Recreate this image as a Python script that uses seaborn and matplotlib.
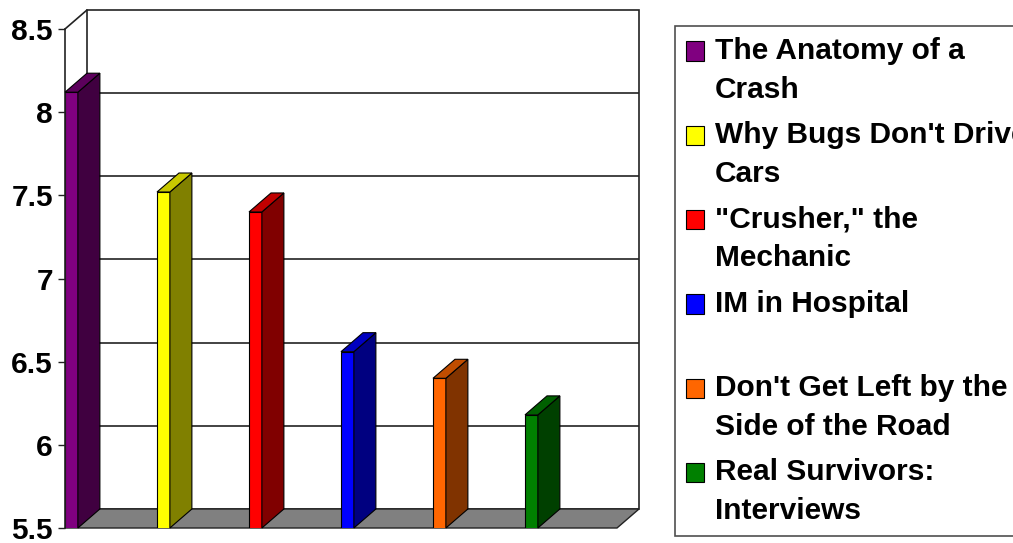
import matplotlib
matplotlib.use("Agg")
import matplotlib.pyplot as plt
import matplotlib.patches as mpatches
from matplotlib.legend_handler import HandlerPatch
from matplotlib.ticker import FormatStrFormatter
import seaborn as sns

# Dados do gráfico
titles = ["The Anatomy of a\nCrash", "Why Bugs Don't Drive\nCars", "\"Crusher,\" the\nMechanic",
          "IM in Hospital\n ", "Don't Get Left by the\nSide of the Road", "Real Survivors:\nInterviews"]
scores = [8.12, 7.52, 7.40, 6.56, 6.40, 6.18]
y_ticks = [5.5, 6, 6.5, 7, 7.5, 8, 8.5]

front_colors = ["#800080", "#FFFF00", "#FF0000", "#0000FF", "#FF6600", "#008000"]
side_colors = ["#400040", "#808000", "#800000", "#000080", "#803300", "#004000"]
top_colors = ["#5C005C", "#C8C800", "#C00000", "#0000C0", "#C04D00", "#006000"]

sns.set_style("white")
plt.rcParams['font.family'] = ['Liberation Sans', 'DejaVu Sans']
plt.rcParams['font.weight'] = 'bold'
plt.rcParams['text.color'] = 'black'
plt.rcParams['ytick.color'] = 'black'
plt.rcParams['ytick.labelcolor'] = 'black'

fig = plt.figure(figsize=(10.13, 5.43), dpi=100)
ax = fig.add_axes([65 / 1013, 15 / 543, 552 / 1013, 499 / 543])

bar_w = 0.14
sns.barplot(x=titles, y=scores, hue=titles, palette=front_colors, width=bar_w, saturation=1,
            legend=False, edgecolor="black", linewidth=0.8, ax=ax)

ymin, ymax = 5.5, 8.5
xmin, xmax = -bar_w / 2, -bar_w / 2 + 6
ax.set_xlim(xmin, xmax)
ax.set_ylim(ymin, ymax)

# profundidade do efeito 3D (em unidades de dados)
dx = 22 / 92
dy = 19 / 166.3

# parede de fundo e linhas de grade
ax.add_patch(mpatches.Rectangle((xmin + dx, ymin + dy), xmax - xmin, ymax - ymin, facecolor="white",
                                edgecolor="#222222", lw=1.2, clip_on=False, zorder=0.1))
ax.hlines([t + dy for t in y_ticks[1:-1]], xmin + dx, xmax + dx, color="#222222", lw=1.2,
          clip_on=False, zorder=0.2)
ax.plot([xmin, xmin + dx], [ymax, ymax + dy], color="#222222", lw=1.2, clip_on=False, zorder=0.2)

# chão cinza
ax.add_patch(mpatches.Polygon([(xmin, ymin), (xmax, ymin), (xmax + dx, ymin + dy), (xmin + dx, ymin + dy)],
                              closed=True, facecolor="#808080", edgecolor="#222222", lw=1,
                              clip_on=False, zorder=0.5))

# faces laterais e superiores das barras
for p, sc, tc in zip(ax.patches, side_colors, top_colors):
    x0 = p.get_x()
    x1 = x0 + p.get_width()
    v = p.get_height()
    ax.add_patch(mpatches.Polygon([(x1, ymin), (x1, v), (x1 + dx, v + dy), (x1 + dx, ymin + dy)],
                                  closed=True, facecolor=sc, edgecolor="black", lw=0.8,
                                  clip_on=False, zorder=3))
    ax.add_patch(mpatches.Polygon([(x0, v), (x1, v), (x1 + dx, v + dy), (x0 + dx, v + dy)],
                                  closed=True, facecolor=tc, edgecolor="black", lw=0.8,
                                  clip_on=False, zorder=3))
for p in ax.patches[:len(scores)]:
    p.set_zorder(2)

ax.set_xticks([])
ax.set_xlabel("")
ax.set_ylabel("")
ax.set_yticks(y_ticks)
ax.yaxis.set_major_formatter(FormatStrFormatter('%g'))
ax.tick_params(axis='y', left=True, length=5, width=1, pad=3.6, labelsize=21.5, color="#222222")
for lbl in ax.get_yticklabels():
    lbl.set_fontweight('bold')
for s in ["top", "right", "bottom"]:
    ax.spines[s].set_visible(False)
ax.spines["left"].set_color("#222222")
ax.spines["left"].set_linewidth(1.2)


# legenda com o quadrado alinhado na primeira linha
def square_first_line(legend, orig_handle, xdescent, ydescent, width, height, fontsize):
    return mpatches.Rectangle((-xdescent, -ydescent + 0.66 * fontsize), width, height)


handles = [mpatches.Patch(facecolor=c, edgecolor="black", lw=0.8) for c in front_colors]
leg = fig.legend(handles, titles, loc="upper left", mode="expand",
                 bbox_to_anchor=(675 / 1013, 0, 0.5, 1 - 26 / 543),
                 prop={'weight': 'bold', 'size': 21.5}, frameon=True, fancybox=False,
                 edgecolor="#222222", handlelength=0.62, handleheight=0.62, handletextpad=0.35,
                 borderpad=0.36, labelspacing=0.58, borderaxespad=0,
                 handler_map={mpatches.Patch: HandlerPatch(patch_func=square_first_line)})
leg.get_frame().set_linewidth(1.2)
for t in leg.get_texts():
    t.set_linespacing(1.5)

fig.savefig("out.png", dpi=100)
